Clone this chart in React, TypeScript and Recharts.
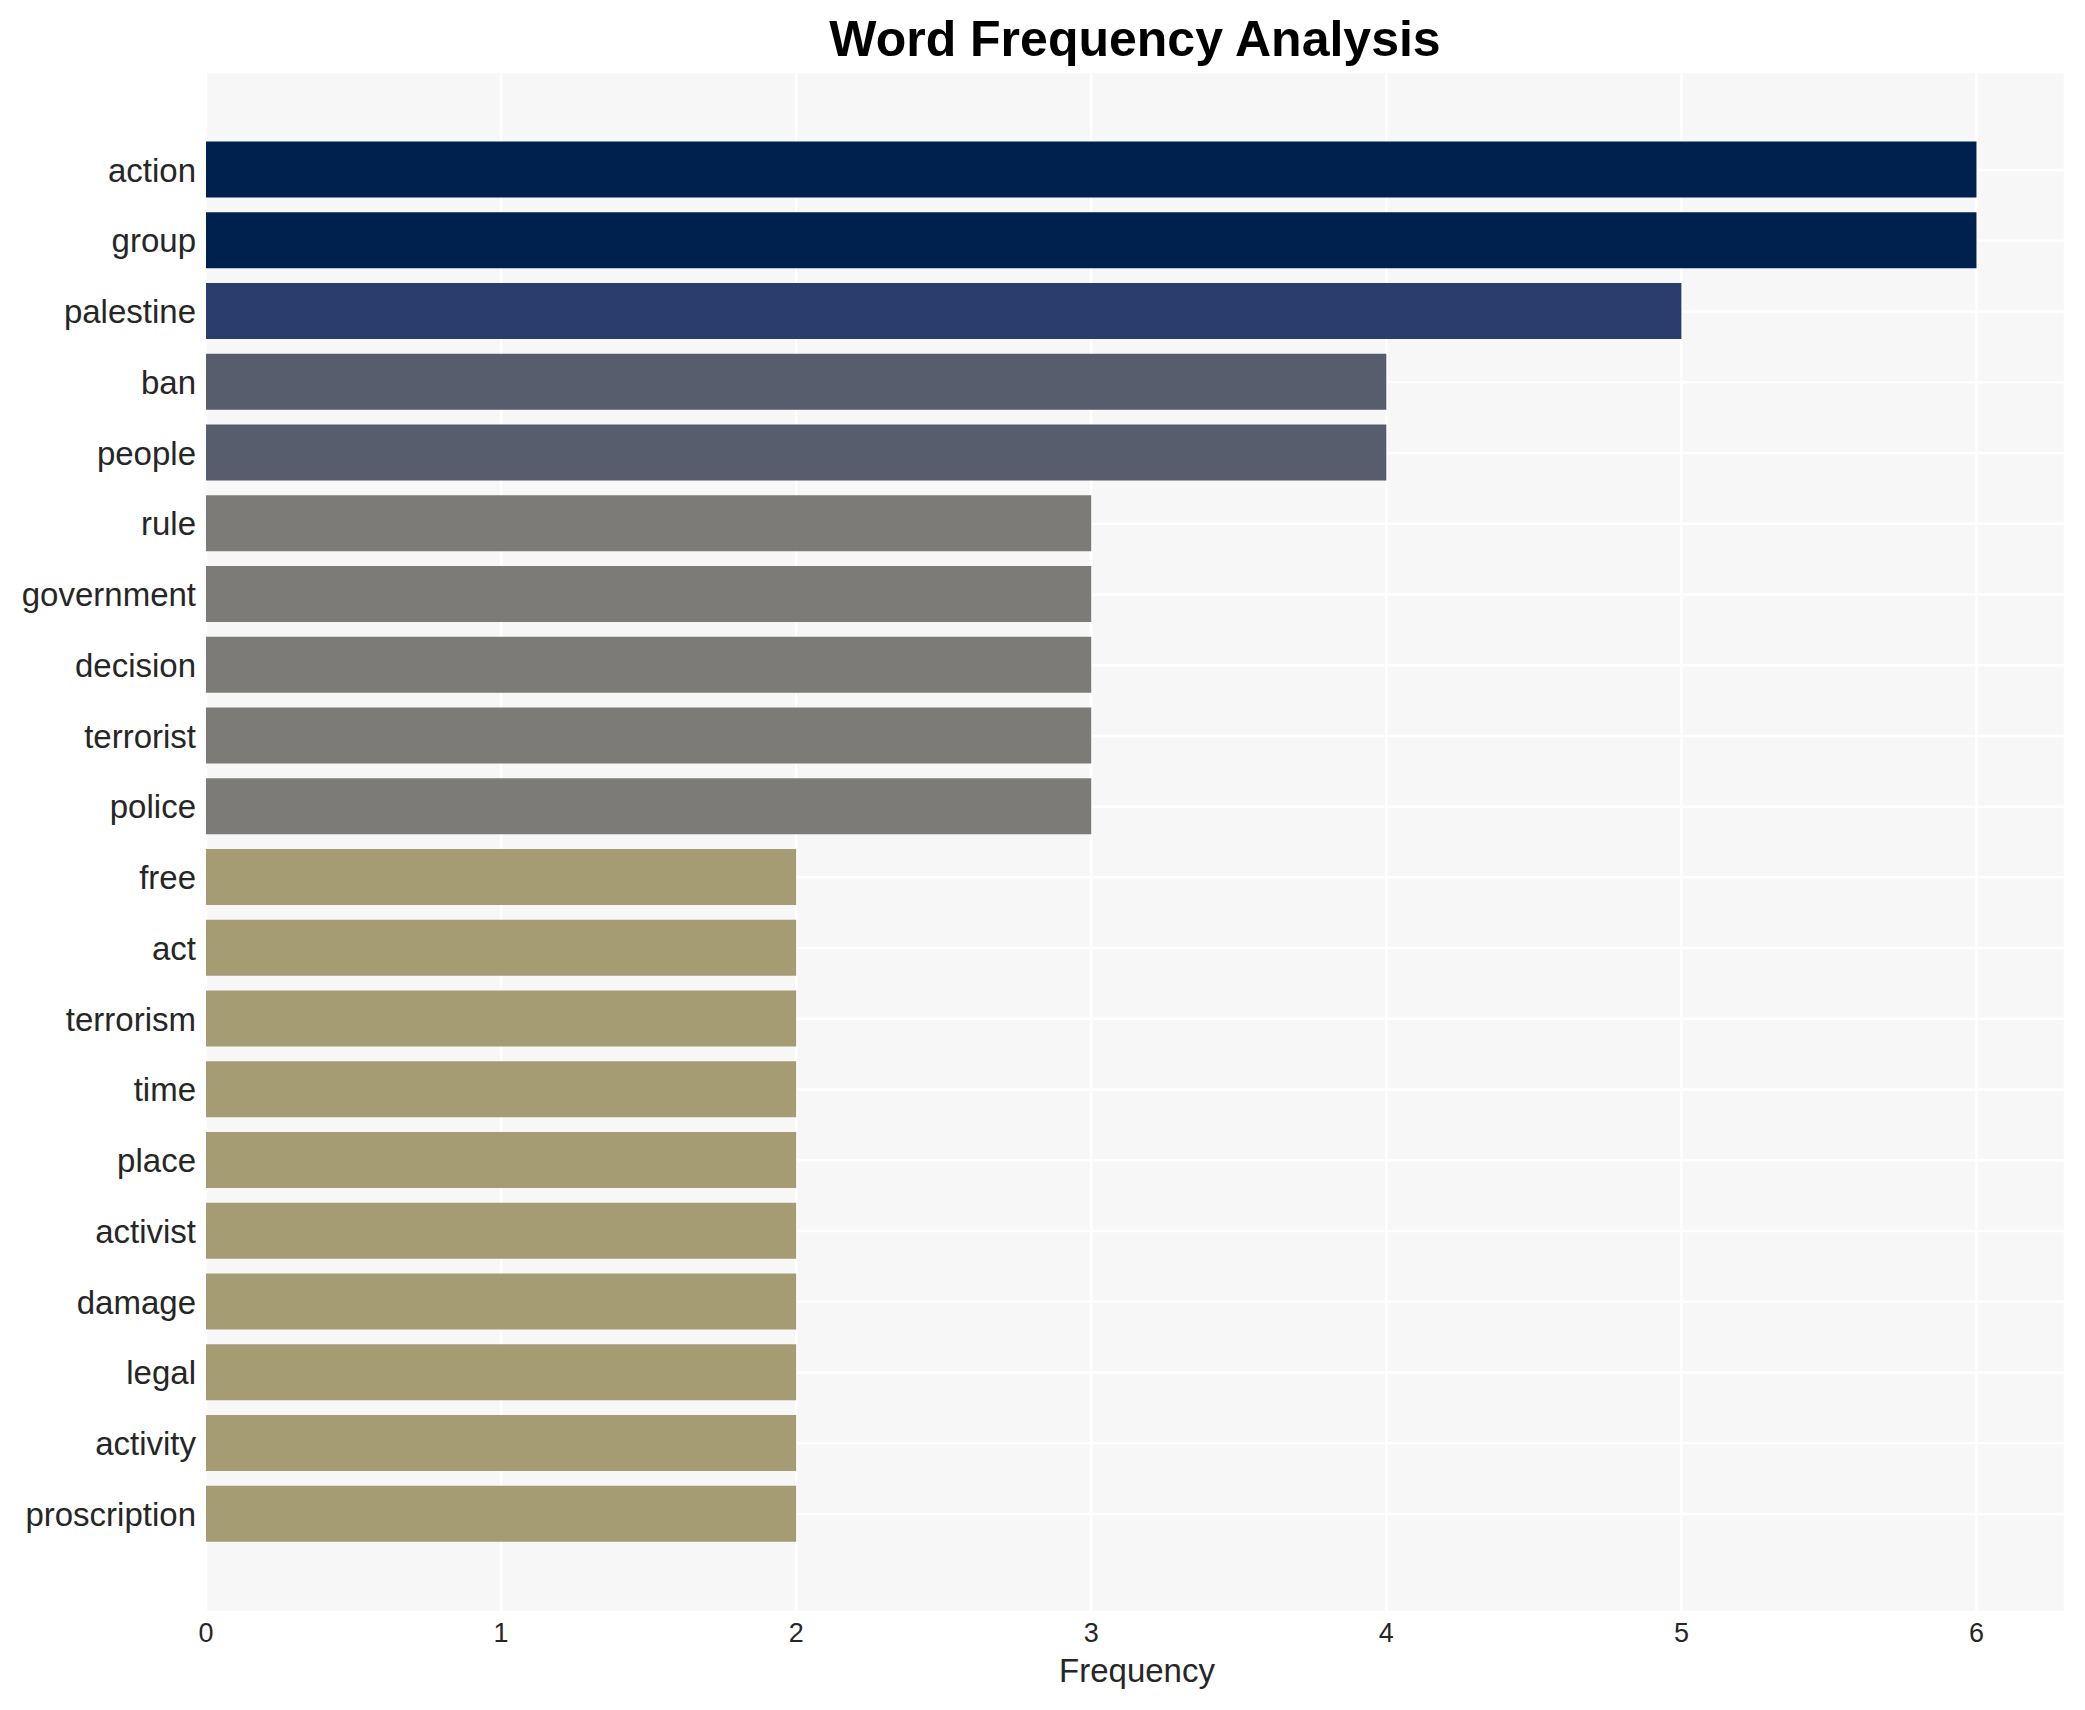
import React from "react";
import { BarChart, Bar, XAxis, YAxis, CartesianGrid, Cell } from "recharts";

const words = [
  "action", "group", "palestine", "ban", "people", "rule", "government", "decision",
  "terrorist", "police", "free", "act", "terrorism", "time", "place", "activist",
  "damage", "legal", "activity", "proscription",
];
const counts = [6, 6, 5, 4, 4, 3, 3, 3, 3, 3, 2, 2, 2, 2, 2, 2, 2, 2, 2, 2];
const xTicks = [0, 1, 2, 3, 4, 5, 6];

// colour by frequency
const shade: Record<number, string> = {
  6: "#00214D",
  5: "#2B3D6D",
  4: "#575D6D",
  3: "#7C7B77",
  2: "#A59C74",
};

const data = words.map((w, i) => ({ word: w, count: counts[i] }));

const FONT = "'Liberation Sans', Arial, Helvetica, sans-serif";
const INK = "#262626";

function XTick(props: any) {
  const { x, y, payload } = props;
  return (
    <text x={x} y={y} dy={30} textAnchor="middle" fontSize={27} fontFamily={FONT} fill={INK}>
      {payload.value}
    </text>
  );
}

export default function App() {
  return (
    <div style={{ position: "relative", width: 2077, height: 1702 }}>
      <BarChart
        width={2077}
        height={1702}
        data={data}
        layout="vertical"
        margin={{ top: 64, right: 20, bottom: 38, left: 0 }}
      >
        <CartesianGrid fill="#F7F7F7" stroke="#FFFFFF" strokeWidth={2.5} />
        <XAxis
          type="number"
          domain={[0, 6.3]}
          ticks={xTicks}
          axisLine={false}
          tickLine={false}
          tickSize={0}
          tickMargin={0}
          height={60}
          tick={<XTick />}
        />
        <YAxis
          type="category"
          dataKey="word"
          width={198}
          axisLine={false}
          tickLine={false}
          tickSize={0}
          tickMargin={10}
          interval={0}
          padding={{ top: 62.6, bottom: 62.6 }}
          tick={{ fontSize: 33, fontFamily: FONT, fill: INK }}
        />
        <Bar dataKey="count" barSize={56} isAnimationActive={false}>
          {data.map((d) => (
            <Cell key={d.word} fill={shade[d.count]} />
          ))}
        </Bar>
      </BarChart>
      <svg
        width={2085}
        height={1710}
        style={{ position: "absolute", left: -8, top: -8, pointerEvents: "none" }}
      >
        <text x={1135} y={56} textAnchor="middle" fontSize={50} fontWeight="bold" fontFamily={FONT} fill="#000">
          Word Frequency Analysis
        </text>
        <text x={1137} y={1682} textAnchor="middle" fontSize={33} fontFamily={FONT} fill={INK}>
          Frequency
        </text>
      </svg>
    </div>
  );
}
